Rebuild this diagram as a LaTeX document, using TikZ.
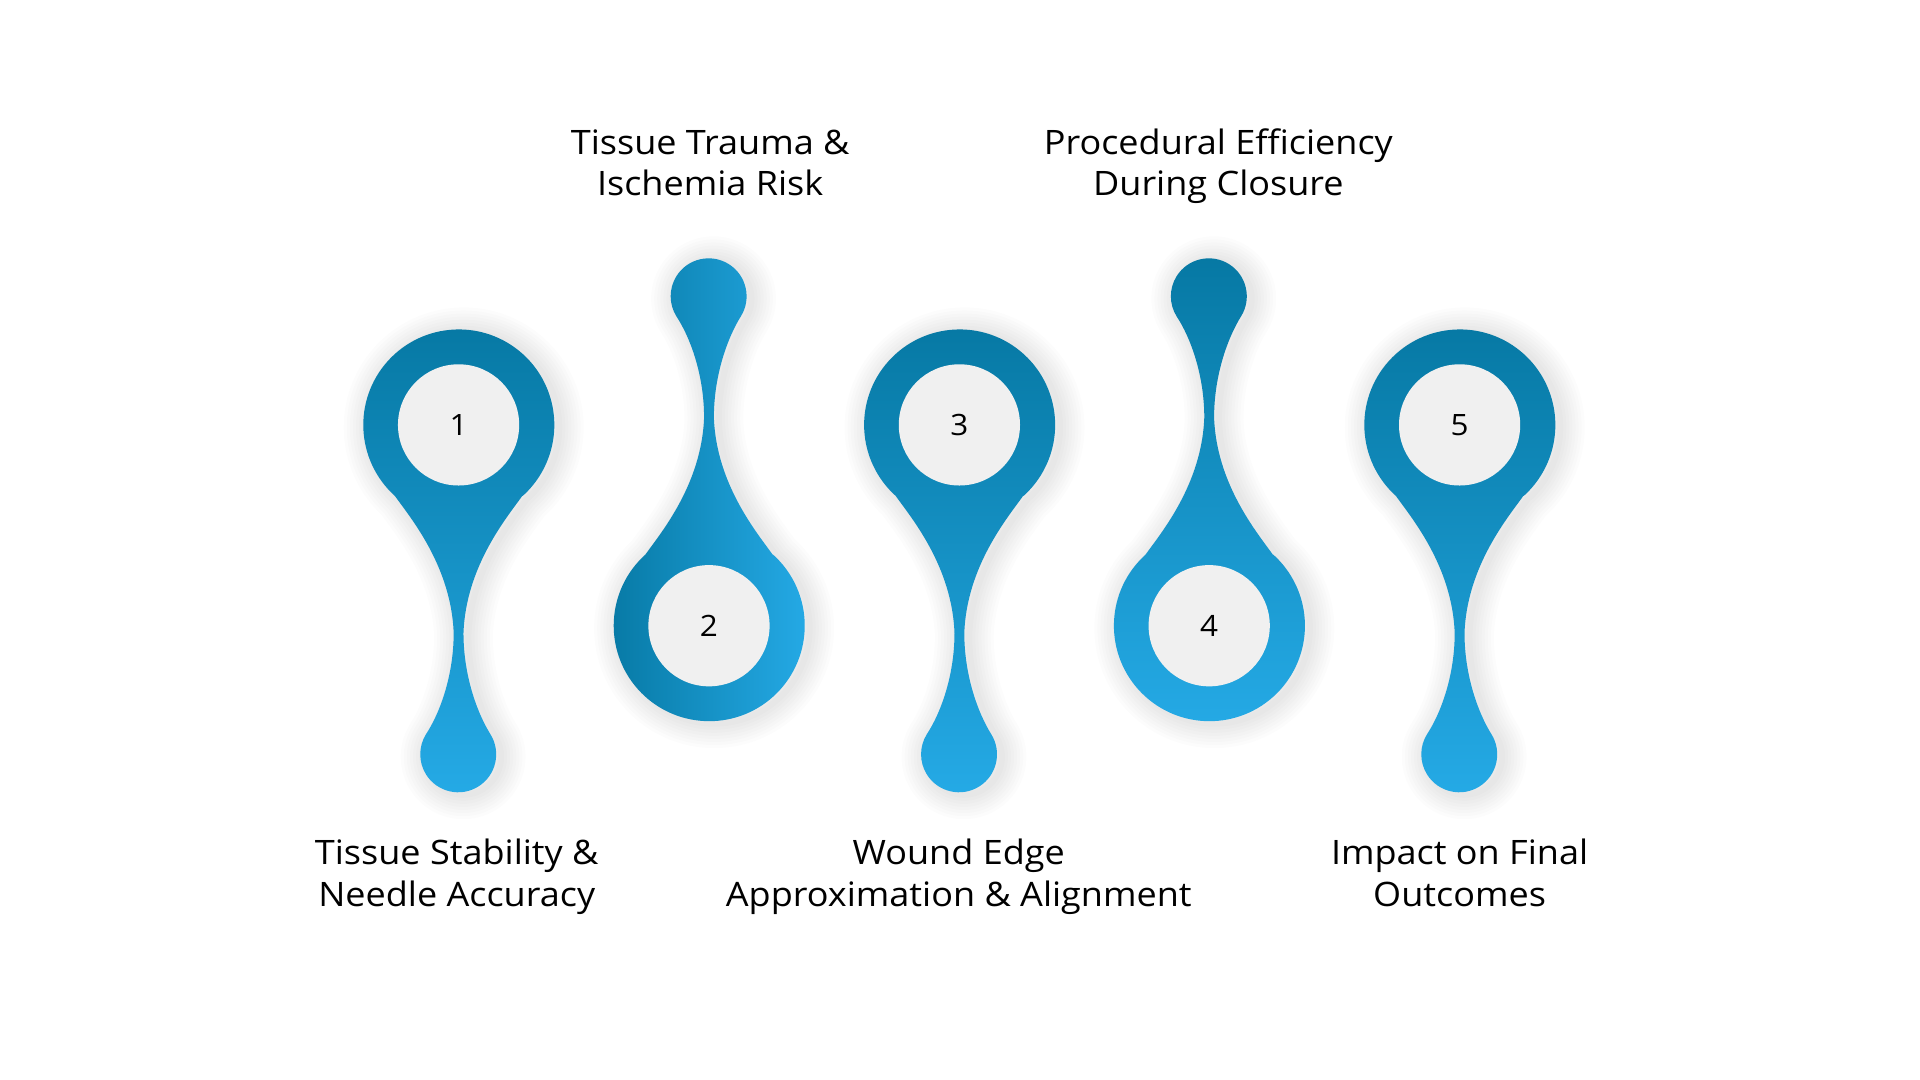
\documentclass[tikz,border=0pt]{standalone}
\usepackage{fontspec}
\setmainfont{Open Sans}[FakeStretch=1.07]
\definecolor{dk}{RGB}{6,120,163}
\definecolor{lt}{RGB}{37,170,230}
\definecolor{inner}{RGB}{240,240,240}
\tikzset{
  x=1pt,y=1pt,
  shadowlayer/.style={draw=black, line join=round, draw opacity=0.012},
  vgrad/.style={top color=dk, bottom color=lt, draw=none},
  hgrad/.style={left color=dk, right color=lt, draw=none},
  hole/.style={circle, fill=inner, minimum size=99pt, inner sep=0pt, font=\fontsize{24}{28}\selectfont},
  lbl/.style={align=center, font=\fontsize{27.5}{34}\selectfont, text=black}
}
\newcommand\pdown{(52,-58) .. controls (40,-75) and (6,-115) .. (4,-170)
    .. controls (4,-205) and (15.4,-235.6) .. (26,-252.6)
    arc[start angle=32, end angle=-212, radius=31]
    .. controls (-15.4,-235.6) and (-4,-205) .. (-4,-170)
    .. controls (-6,-115) and (-40,-75) .. (-52,-58)
    arc[start angle=228, end angle=-48, radius=78] -- cycle}
\newcommand\pup{(52,58) .. controls (40,75) and (6,115) .. (4,170)
    .. controls (4,205) and (15.4,235.6) .. (26,252.6)
    arc[start angle=-32, end angle=212, radius=31]
    .. controls (-15.4,235.6) and (-4,205) .. (-4,170)
    .. controls (-6,115) and (-40,75) .. (-52,58)
    arc[start angle=132, end angle=408, radius=78] -- cycle}
% #1 x, #2 y, #3 style, #4 path macro
\newcommand\bulb[4]{%
  \foreach \w in {40,35,30,25,20,15,10,5}{%
    \path[shadowlayer, line width=\w pt, shift={(#1+4,#2-2)}] #4;}
  \path[#3, shift={(#1,#2)}] #4;}
\begin{document}
\begin{tikzpicture}
\fill[white] (0,0) rectangle (1568,-882);
\useasboundingbox (0,0) rectangle (1568,-882);
\bulb{374.5}{-347}{vgrad}{\pdown}
\bulb{579}{-511}{hgrad}{\pup}
\bulb{783.5}{-347}{vgrad}{\pdown}
\bulb{987.5}{-511}{vgrad}{\pup}
\bulb{1192}{-347}{vgrad}{\pdown}
\node[hole] (n1) at (374.5,-347) {1};
\node[hole] (n2) at (579,-511) {2};
\node[hole] (n3) at (783.5,-347) {3};
\node[hole] (n4) at (987.5,-511) {4};
\node[hole] (n5) at (1192,-347) {5};
\node[lbl] (t1) at (373,-716.5) {\strut Tissue Stability \&\\\strut Needle Accuracy};
\node[lbl] (t2) at (580,-136) {\strut Tissue Trauma \&\\\strut Ischemia Risk};
\node[lbl] (t3) at (783,-716.5) {\strut Wound Edge\\\strut Approximation \& Alignment};
\node[lbl] (t4) at (995,-136) {\strut Procedural Efficiency\\\strut During Closure};
\node[lbl] (t5) at (1192,-716.5) {\strut Impact on Final\\\strut Outcomes};
\end{tikzpicture}
\end{document}
